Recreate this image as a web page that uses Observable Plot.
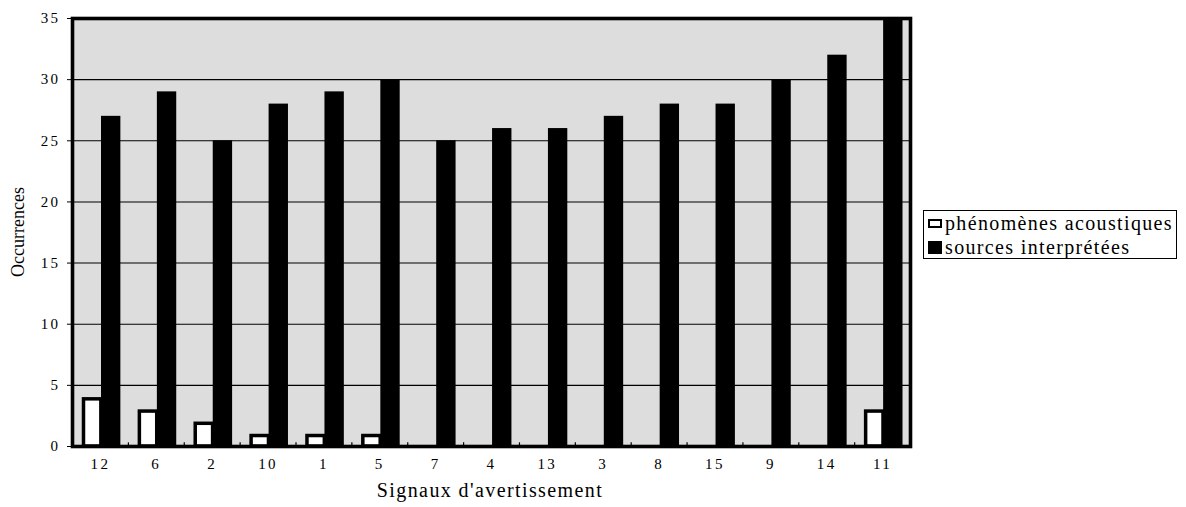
<!DOCTYPE html>
<html>
<head>
<meta charset="utf-8">
<script src="https://cdn.jsdelivr.net/npm/d3@7"></script>
<script src="https://cdn.jsdelivr.net/npm/@observablehq/plot@0.6"></script>
<style>
  html, body { margin: 0; padding: 0; background: #fff; }
  #wrap { position: relative; width: 1186px; height: 507px; font-family: "Liberation Serif", "Times New Roman", serif; color: #000; }
  #legend { position: absolute; left: 923px; top: 210px; width: 252px; height: 47px; border: 1px solid #000; box-sizing: content-box; font-size: 20px; letter-spacing: 1.35px; }
  .item { position: absolute; left: 0; height: 24px; display: flex; align-items: center; white-space: nowrap; }
  .sw { display: inline-block; margin-left: 4px; margin-right: 3px; box-sizing: border-box; flex: none; }
  #xtitle { position: absolute; left: 0; width: 980px; top: 478px; text-align: center; font-size: 20px; letter-spacing: 1.4px; line-height: 24px; white-space: nowrap; }
  #ytitle { position: absolute; left: 18px; top: 232px; transform: translate(-50%, -50%) rotate(-90deg); font-size: 18px; line-height: 20px; white-space: nowrap; }
  svg [aria-label="x-axis tick label"] text, svg [aria-label="y-axis tick label"] text { letter-spacing: 2.4px; }
</style>
</head>
<body>
<div id="wrap">
  <div id="chart"></div>
  <div id="legend"></div>
  <div id="xtitle"></div>
  <div id="ytitle"></div>
</div>
<script>
const categories = ["12", "6", "2", "10", "1", "5", "7", "4", "13", "3", "8", "15", "9", "14", "11"];
const acoustiques = [4, 3, 2, 1, 1, 1, 0, 0, 0, 0, 0, 0, 0, 0, 3];
const sources = [27, 29, 25, 28, 29, 30, 25, 26, 26, 27, 28, 28, 30, 32, 35];
const seriesNames = ["phénomènes acoustiques", "sources interprétées"];
const yTicks = [0, 5, 10, 15, 20, 25, 30, 35];
const gridValues = [5, 10, 15, 20, 25, 30];
const xTitle = "Signaux d'avertissement";
const yTitle = "Occurrences";

const rowsA = categories.map((c, i) => ({cat: c, v: acoustiques[i]}));
const rowsS = categories.map((c, i) => ({cat: c, v: sources[i]}));

const chart = Plot.plot({
  width: 1186,
  height: 507,
  marginLeft: 72,
  marginRight: 276,
  marginTop: 18,
  marginBottom: 61,
  style: {fontFamily: "'Liberation Serif', 'Times New Roman', serif", fontSize: "15px", color: "#000", background: "transparent"},
  x: {type: "band", domain: categories, padding: 0, round: false, align: 0.5},
  y: {domain: [0, 35]},
  marks: [
    Plot.frame({fill: "#dddddd"}),
    Plot.ruleY(gridValues, {stroke: "#000", strokeWidth: 1.1}),
    Plot.barY(rowsA, {filter: d => d.v > 0, x: "cat", y: "v", fill: "#fff", stroke: "#000", strokeWidth: 3.5, insetLeft: 11.5, insetRight: 27, insetTop: 1.75}),
    Plot.barY(rowsS, {x: "cat", y: "v", fill: "#000", insetLeft: 29, insetRight: 7.5}),
    Plot.ruleX(categories.slice(1), {x: d => d, dx: -27.9, y1: 0, y2: 0.3, stroke: "#000", strokeWidth: 1.2}),
    Plot.frame({stroke: "#000", strokeWidth: 3.6}),
    Plot.axisY({ticks: yTicks, tickSize: 5, tickPadding: 7, tickFormat: d => String(d), fontSize: 15, label: null}),
    Plot.axisX({tickSize: 0, tickPadding: 12, fontSize: 15, label: null})
  ]
});
document.getElementById("chart").appendChild(chart);

document.getElementById("xtitle").textContent = xTitle;
document.getElementById("xtitle").style.width = (2 * 490) + "px";
document.getElementById("ytitle").textContent = yTitle;

// legend
const legend = document.getElementById("legend");
const swStyles = [
  "width:14px;height:9px;background:#fff;border:2.5px solid #000;",
  "width:14px;height:13px;background:#000;"
];
const tops = [0, 24];
seriesNames.forEach((name, i) => {
  const item = document.createElement("div");
  item.className = "item";
  item.style.top = tops[i] + "px";
  const sw = document.createElement("span");
  sw.className = "sw";
  sw.style.cssText += swStyles[i];
  const t = document.createElement("span");
  t.textContent = name;
  item.appendChild(sw);
  item.appendChild(t);
  legend.appendChild(item);
});
</script>
</body>
</html>
